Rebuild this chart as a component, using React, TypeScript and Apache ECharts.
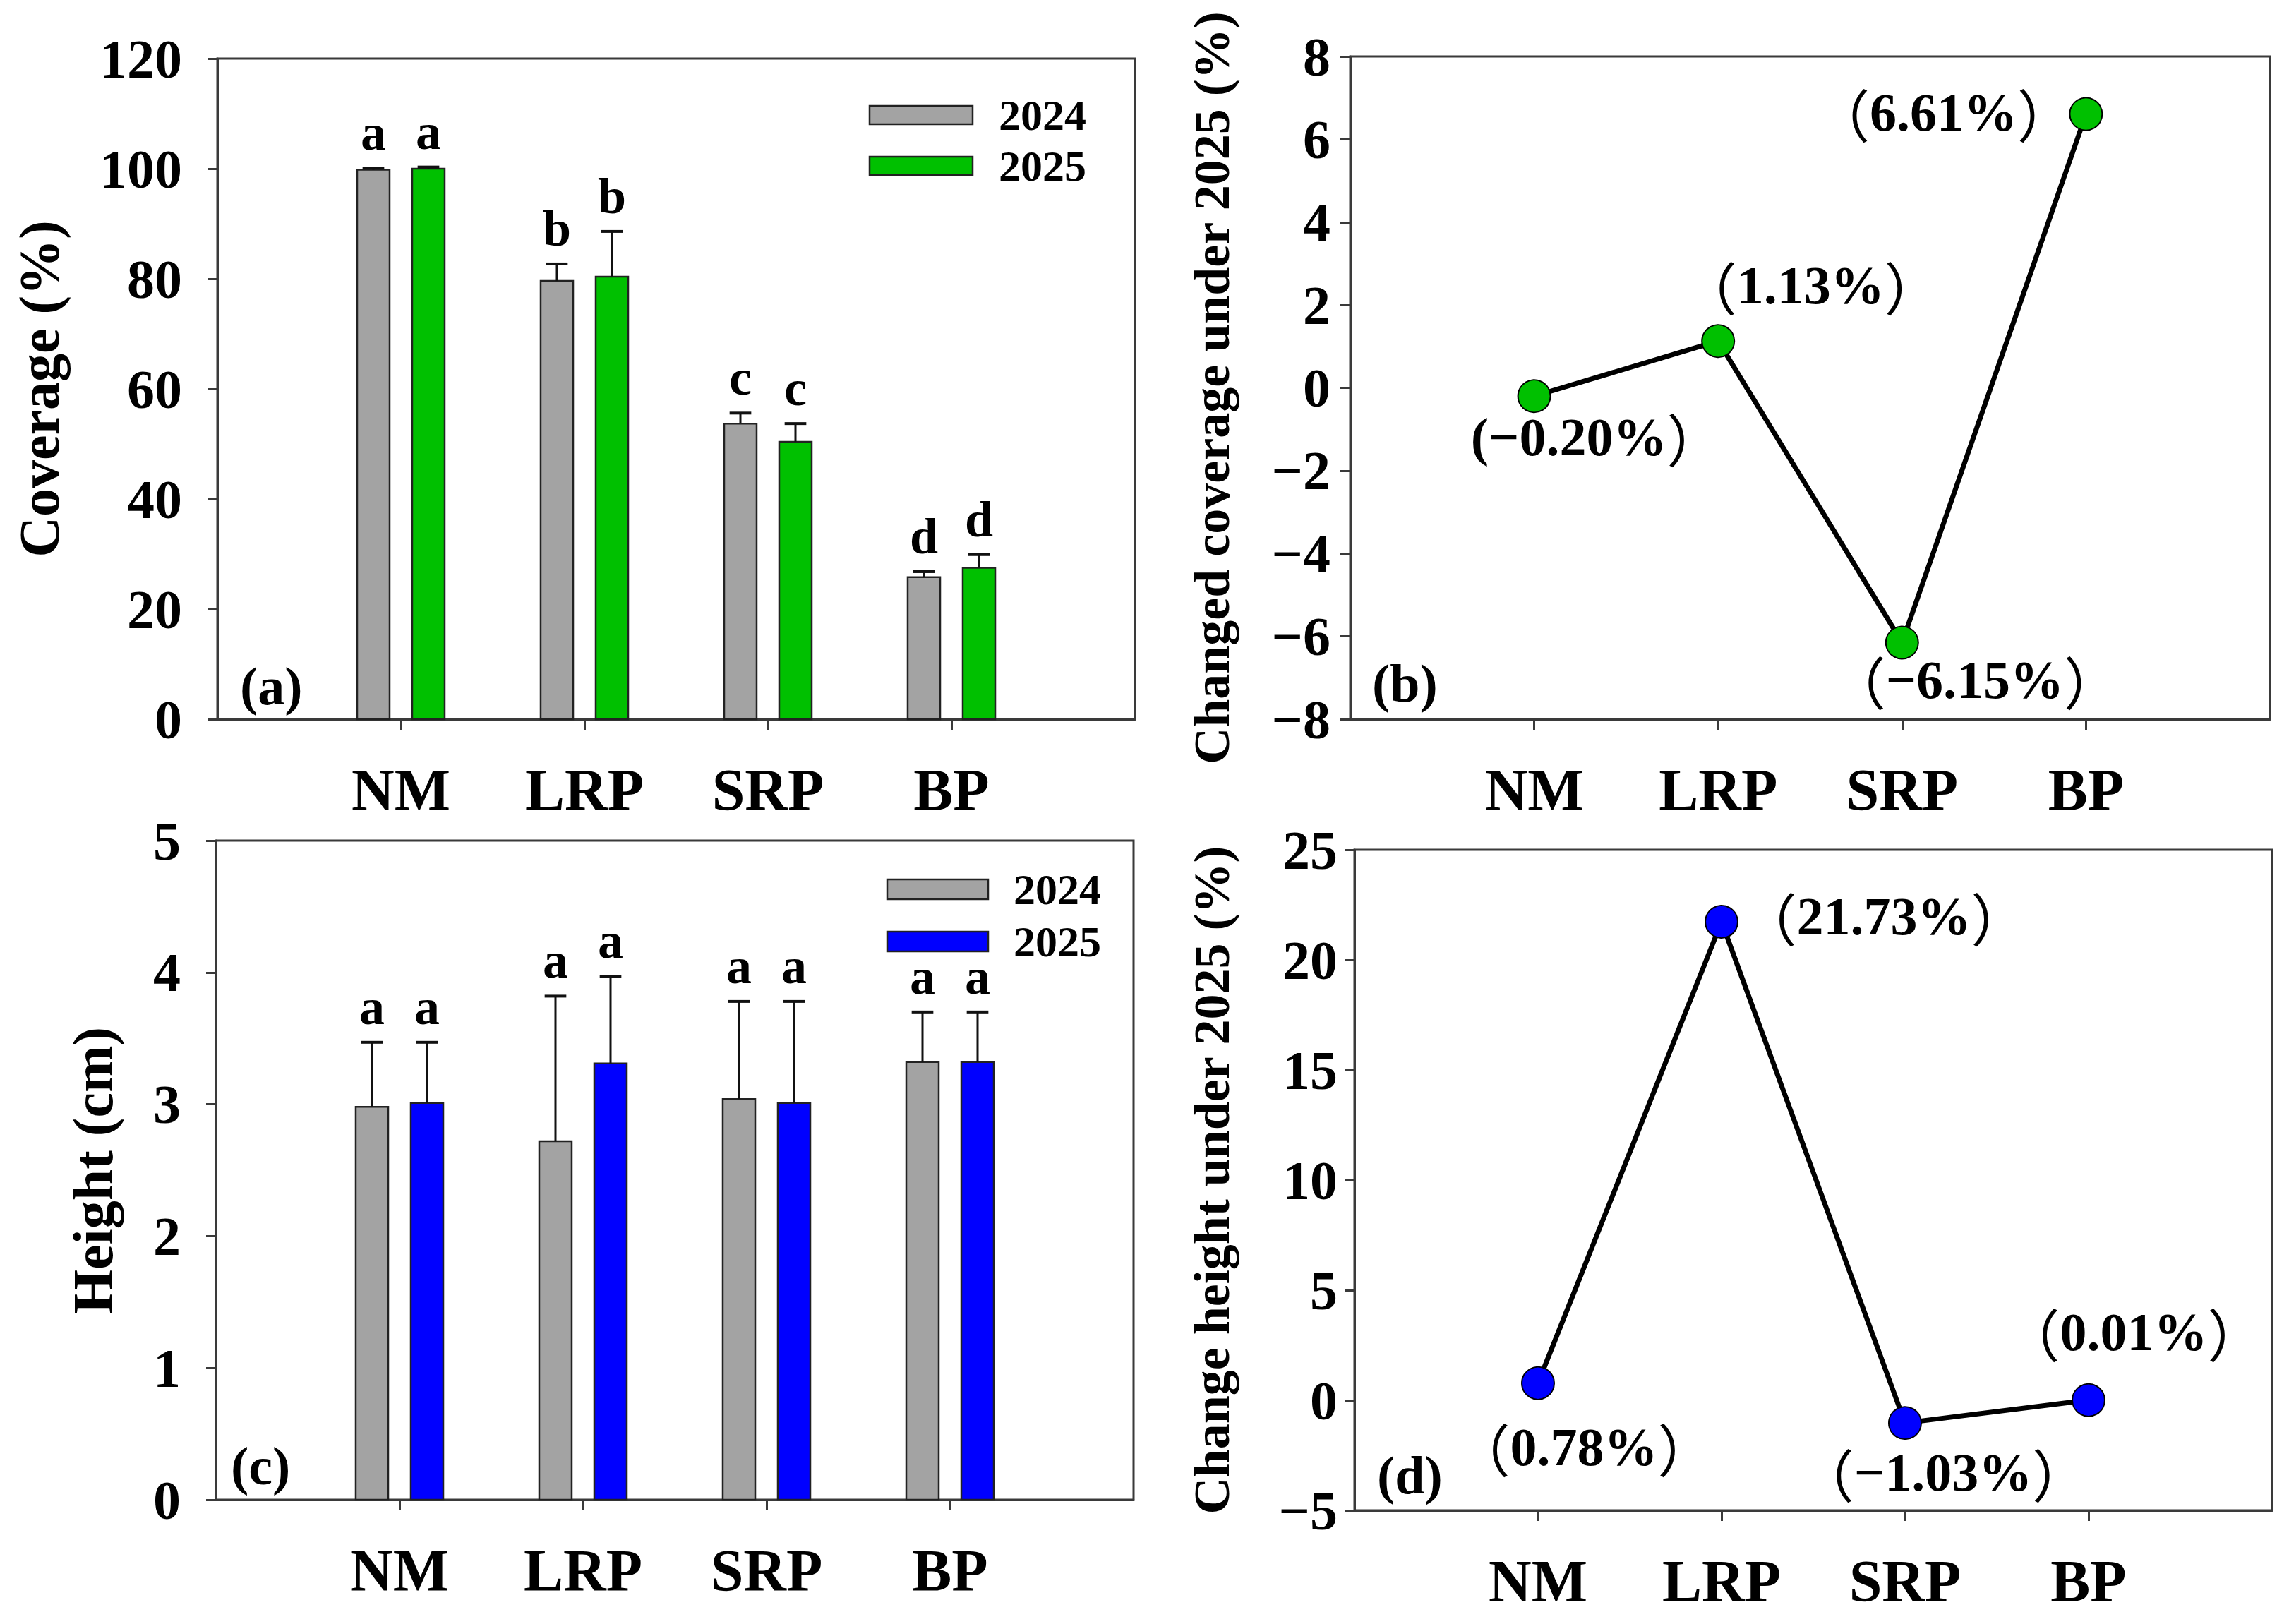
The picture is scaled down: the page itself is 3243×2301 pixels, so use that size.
import React, { useEffect, useRef } from "react";
import * as echarts from "echarts";

const categories = ["NM", "LRP", "SRP", "BP"];

const coverage2024 = [99.8, 79.6, 53.7, 25.8];
const coverage2024Err = [0.3, 3.1, 1.9, 1.0];
const coverage2025 = [100.0, 80.4, 50.4, 27.5];
const coverage2025Err = [0.3, 8.2, 3.3, 2.4];
const coverageLetters2024 = ["a", "b", "c", "d"];
const coverageLetters2025 = ["a", "b", "c", "d"];

const height2024 = [2.98, 2.72, 3.04, 3.32];
const height2024Err = [0.49, 1.1, 0.74, 0.38];
const height2025 = [3.01, 3.31, 3.01, 3.32];
const height2025Err = [0.46, 0.66, 0.77, 0.38];
const heightLetters2024 = ["a", "a", "a", "a"];
const heightLetters2025 = ["a", "a", "a", "a"];

const coverageChange = [-0.2, 1.13, -6.15, 6.61];
const coverageChangeLabels = ["(\u22120.20%\uFF09", "\uFF081.13%\uFF09", "\uFF08\u22126.15%\uFF09", "\uFF086.61%\uFF09"];
const heightChange = [0.78, 21.73, -1.03, 0.01];
const heightChangeLabels = ["\uFF080.78%\uFF09", "\uFF0821.73%\uFF09", "\uFF08\u22121.03%\uFF09", "\uFF080.01%\uFF09"];

const legendYears = ["2024", "2025"];

// label offsets (pixels, style only)
const coverageLabelOffsets = [[89, 58], [131, -79], [103, 53], [-202, -3]];
const heightLabelOffsets = [[65, 90], [230, -8], [54, 70], [64, -97]];

const FONT = '"Liberation Serif", "Times New Roman", serif';
const CJK = '"Noto Sans CJK SC", "Noto Sans CJK JP", sans-serif';
const GRAY = "#A3A3A3";
const GREEN = "#00C000";
const BLUE = "#0000FF";
const AXIS = "#3a3a3a";

const xCats = ["", ...categories, ""];
const showIdx = (i: number) => i >= 1 && i <= 4;

function xAxisFor(gridIndex: number) {
  return {
    type: "category",
    gridIndex,
    data: xCats,
    boundaryGap: false,
    axisLine: { show: true, onZero: false, lineStyle: { color: AXIS, width: 3 } },
    axisTick: { show: true, interval: showIdx, length: 15, inside: false, lineStyle: { color: AXIS, width: 3 } },
    axisLabel: { interval: showIdx, margin: 58, fontSize: 84, fontWeight: "bold", fontFamily: FONT, color: "#000" },
    splitLine: { show: false },
  };
}

const minusFmt = (v: number) => (v < 0 ? "\u2212" + Math.abs(v) : String(v));

function yAxisFor(gridIndex: number, min: number, max: number, interval: number, name: string, nameGap: number, nameSize: number, labelMargin: number) {
  return {
    type: "value",
    gridIndex,
    min,
    max,
    interval,
    name,
    nameLocation: "middle",
    nameGap,
    nameRotate: 90,
    nameTextStyle: { fontSize: nameSize, fontWeight: "bold", fontFamily: FONT, color: "#000" },
    axisLine: { show: true, onZero: false, lineStyle: { color: AXIS, width: 3 } },
    axisTick: { show: true, inside: false, length: 14, lineStyle: { color: AXIS, width: 3 } },
    axisLabel: { margin: labelMargin, fontSize: 78, fontWeight: "bold", fontFamily: FONT, color: "#000", formatter: minusFmt },
    splitLine: { show: false },
  };
}

function barSeries(name: string, idx: number, values: number[], errs: number[], letters: string[], offset: number, color: string) {
  return {
    type: "custom",
    name,
    xAxisIndex: idx,
    yAxisIndex: idx,
    data: values.map((v, i) => [i + 1, v, errs[i]]),
    encode: { x: 0, y: 1 },
    renderItem: (params: any, api: any) => {
      const ci = api.value(0);
      const v = api.value(1);
      const e = api.value(2);
      const band = api.size([1, 0])[0];
      const base = api.coord([ci, 0]);
      const top = api.coord([ci, v]);
      const et = api.coord([ci, v + e]);
      const cx = base[0] + offset * band;
      const bw = 0.177 * band;
      const cw = 0.118 * band;
      return {
        type: "group",
        children: [
          { type: "rect", shape: { x: cx - bw / 2, y: top[1], width: bw, height: base[1] - top[1] }, style: { fill: color, stroke: "#222", lineWidth: 2.5 } },
          { type: "line", shape: { x1: cx, y1: top[1], x2: cx, y2: et[1] }, style: { stroke: "#111", lineWidth: 3 } },
          { type: "line", shape: { x1: cx - cw / 2, y1: et[1], x2: cx + cw / 2, y2: et[1] }, style: { stroke: "#111", lineWidth: 4 } },
          {
            type: "text",
            x: cx,
            y: et[1] - 14,
            style: { text: letters[params.dataIndex], fill: "#000", fontSize: 72, fontWeight: "bold", fontFamily: FONT, align: "center", verticalAlign: "bottom" },
          },
        ],
      };
    },
  };
}

// wrap full-width parentheses in a CJK style, the rest in serif bold
function toRich(label: string) {
  let out = "";
  for (const ch of Array.from(label)) {
    if (ch === "\uFF08" || ch === "\uFF09") out += "{p|" + ch + "}";
    else out += "{n|" + ch + "}";
  }
  return out;
}

function lineSeries(idx: number, values: number[], labels: string[], offsets: number[][], color: string) {
  return {
    type: "line",
    xAxisIndex: idx,
    yAxisIndex: idx,
    data: values.map((v, i) => ({
      value: [i + 1, v],
      label: {
        show: true,
        position: "inside",
        offset: offsets[i],
        formatter: toRich(labels[i]),
        align: "center",
        verticalAlign: "middle",
        rich: {
          n: { fontSize: 76, fontWeight: "bold", fontFamily: FONT, color: "#000" },
          p: { fontSize: 80, fontWeight: "normal", fontFamily: CJK, color: "#000" },
        },
      },
    })),
    symbol: "circle",
    symbolSize: 46,
    lineStyle: { color: "#000", width: 7 },
    itemStyle: { color, borderColor: "#000", borderWidth: 2 },
    z: 3,
  };
}

function legendGraphic(x: number, y1: number, y2: number, w: number, h: number, textX: number, color2: string) {
  const items: any[] = [];
  const ys = [y1, y2];
  const cols = [GRAY, color2];
  legendYears.forEach((yr, i) => {
    items.push({ type: "rect", shape: { x, y: ys[i], width: w, height: h }, style: { fill: cols[i], stroke: "#222", lineWidth: 2.5 } });
    items.push({
      type: "text",
      x: textX,
      y: ys[i] + h / 2,
      style: { text: yr, fill: "#000", fontSize: 62, fontWeight: "bold", fontFamily: FONT, align: "left", verticalAlign: "middle" },
    });
  });
  return items;
}

function panelLabel(text: string, x: number, y: number) {
  return { type: "text", x, y, style: { text, fill: "#000", fontSize: 76, fontWeight: "bold", fontFamily: FONT, align: "left", verticalAlign: "middle" } };
}

export default function App() {
  const ref = useRef<HTMLDivElement>(null);
  useEffect(() => {
    if (!ref.current) return;
    const chart = echarts.init(ref.current, undefined, { renderer: "svg" });
    const gridStyle = { show: true, borderColor: AXIS, borderWidth: 3, backgroundColor: "transparent", containLabel: false };
    chart.setOption({
      animation: false,
      backgroundColor: "#ffffff",
      grid: [
        { ...gridStyle, left: 308, top: 83, width: 1300, height: 936 },
        { ...gridStyle, left: 1913, top: 80, width: 1303, height: 939 },
        { ...gridStyle, left: 306, top: 1191, width: 1300, height: 934 },
        { ...gridStyle, left: 1919, top: 1204, width: 1300, height: 936 },
      ],
      xAxis: [xAxisFor(0), xAxisFor(1), xAxisFor(2), xAxisFor(3)],
      yAxis: [
        yAxisFor(0, 0, 120, 20, "Coverage (%)", 212, 80, 50),
        yAxisFor(1, -8, 8, 2, "Changed coverage under 2025 (%)", 160, 72, 28),
        yAxisFor(2, 0, 5, 1, "Height (cm)", 134, 80, 50),
        yAxisFor(3, -5, 25, 5, "Change height under 2025 (%)", 166, 72, 24),
      ],
      series: [
        barSeries("2024", 0, coverage2024, coverage2024Err, coverageLetters2024, -0.15, GRAY),
        barSeries("2025", 0, coverage2025, coverage2025Err, coverageLetters2025, 0.15, GREEN),
        lineSeries(1, coverageChange, coverageChangeLabels, coverageLabelOffsets, GREEN),
        barSeries("2024", 2, height2024, height2024Err, heightLetters2024, -0.15, GRAY),
        barSeries("2025", 2, height2025, height2025Err, heightLetters2025, 0.15, BLUE),
        lineSeries(3, heightChange, heightChangeLabels, heightLabelOffsets, BLUE),
      ],
      graphic: [
        ...legendGraphic(1232, 150, 222, 146, 26, 1415, GREEN),
        ...legendGraphic(1257, 1246, 1320, 143, 28, 1436, BLUE),
        panelLabel("(a)", 340, 972),
        panelLabel("(b)", 1944, 968),
        panelLabel("(c)", 327, 2077),
        panelLabel("(d)", 1951, 2090),
      ],
    });
    return () => chart.dispose();
  }, []);
  return <div ref={ref} style={{ position: "absolute", left: 0, top: 0, width: 3243, height: 2301 }} />;
}
